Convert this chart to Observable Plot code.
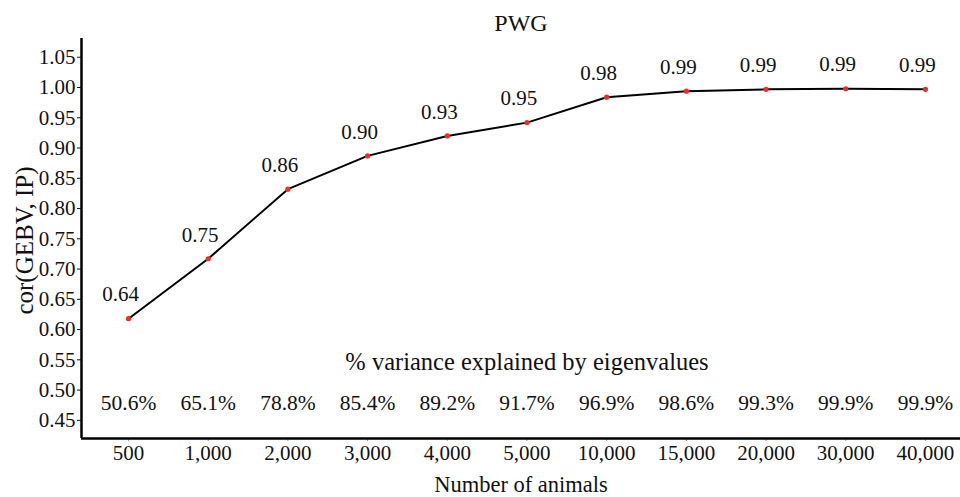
<!DOCTYPE html>
<html>
<head>
<meta charset="utf-8">
<script src="https://cdn.jsdelivr.net/npm/d3@7"></script>
<script src="https://cdn.jsdelivr.net/npm/@observablehq/plot@0.6"></script>
<style>
  html, body { margin: 0; padding: 0; background: #fff; }
</style>
</head>
<body>
<div id="chart"></div>
<script>
const animals = ["500", "1,000", "2,000", "3,000", "4,000", "5,000", "10,000", "15,000", "20,000", "30,000", "40,000"];
const corValues = [0.618, 0.717, 0.832, 0.887, 0.920, 0.942, 0.984, 0.994, 0.997, 0.998, 0.997];
const corLabels = ["0.64", "0.75", "0.86", "0.90", "0.93", "0.95", "0.98", "0.99", "0.99", "0.99", "0.99"];
const variance = ["50.6%", "65.1%", "78.8%", "85.4%", "89.2%", "91.7%", "96.9%", "98.6%", "99.3%", "99.9%", "99.9%"];
const yTicks = [0.45, 0.50, 0.55, 0.60, 0.65, 0.70, 0.75, 0.80, 0.85, 0.90, 0.95, 1.00, 1.05];

const data = animals.map((a, i) => ({
  i: i + 1,
  animals: a,
  cor: corValues[i],
  label: corLabels[i],
  variance: variance[i]
}));

const font = "'Liberation Serif', 'DejaVu Serif', serif";
const yMin = 0.42, yMax = 1.081;

const plot = Plot.plot({
  width: 960,
  height: 497,
  marginLeft: 81,
  marginRight: 0,
  marginTop: 38,
  marginBottom: 59,
  style: { fontFamily: font, fontSize: "21px", color: "#111", background: "#fff" },
  x: { type: "linear", domain: [0.41, 11.44] },
  y: { domain: [yMin, yMax] },
  marks: [
    Plot.axisY(yTicks, { tickFormat: d3.format(".2f"), tickSize: 4, tickPadding: 2, fontSize: 21, label: null }),
    Plot.axisX(data.map(d => d.i), { tickFormat: i => animals[i - 1], tickSize: 3, tickPadding: 4, fontSize: 21, label: null, stroke: "#999" }),
    Plot.ruleX([0.41], { stroke: "#000", strokeWidth: 2.5 }),
    Plot.ruleY([yMin], { stroke: "#000", strokeWidth: 2.5 }),
    Plot.line(data, { x: "i", y: "cor", stroke: "#000", strokeWidth: 2 }),
    Plot.dot(data, { x: "i", y: "cor", r: 2.6, fill: "#e8302a", stroke: "none" }),
    Plot.text(data, { x: "i", y: "cor", text: "label", dx: -8, dy: -24, fontSize: 21, fill: "#111" }),
    Plot.text(data, { x: "i", y: () => 0.478, text: "variance", fontSize: 21.5, fill: "#111" }),
    Plot.text(["% variance explained by eigenvalues"], { x: () => 6, y: () => 0.546, text: d => d, fontSize: 24.5, fill: "#111" }),
    Plot.text(["PWG"], { frameAnchor: "top", lineAnchor: "middle", dy: -15, text: d => d, fontSize: 24, fill: "#111" }),
    Plot.text(["cor(GEBV, IP)"], { frameAnchor: "left", textAnchor: "middle", lineAnchor: "middle", dx: -57, dy: 2, rotate: -90, text: d => d, fontSize: 25, fill: "#111" }),
    Plot.text(["Number of animals"], { frameAnchor: "bottom", lineAnchor: "middle", dy: 46, text: d => d, fontSize: 22.5, fill: "#111" })
  ]
});

document.getElementById("chart").appendChild(plot);
</script>
</body>
</html>
